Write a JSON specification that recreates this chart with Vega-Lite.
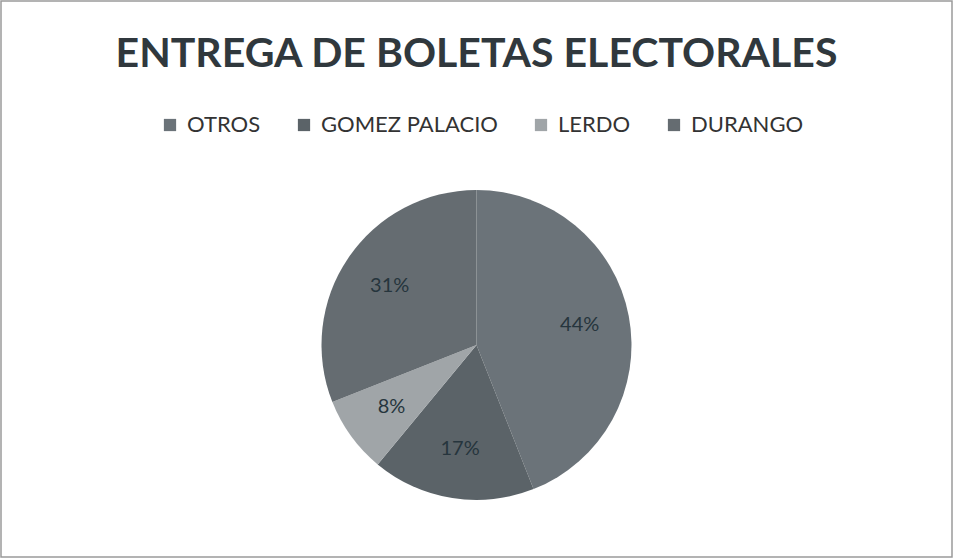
{
  "$schema": "https://vega.github.io/schema/vega-lite/v6.json",
  "autosize": "none",
  "padding": 1,
  "width": 951,
  "height": 556,
  "background": "white",
  "config": {
    "view": {"stroke": null},
    "font": "Lato"
  },
  "title": {
    "text": "ENTREGA DE BOLETAS ELECTORALES",
    "font": "Lato",
    "fontSize": 41,
    "fontWeight": "bold",
    "color": "#30383d",
    "anchor": "middle",
    "baseline": "alphabetic",
    "offset": 0,
    "dy": 108
  },
  "data": {
    "values": [
      {"zona": "OTROS", "pct": 44, "idx": 1, "label": "44%"},
      {"zona": "GOMEZ PALACIO", "pct": 17, "idx": 2, "label": "17%"},
      {"zona": "LERDO", "pct": 8, "idx": 3, "label": "8%"},
      {"zona": "DURANGO", "pct": 31, "idx": 4, "label": "31%"}
    ]
  },
  "layer": [
    {
      "data": {"values": [{"frame": 1}]},
      "mark": {"type": "rect", "fill": null, "stroke": "#9a9a9a", "strokeWidth": 1.5},
      "encoding": {}
    },
    {
      "mark": {"type": "arc", "outerRadius": 155, "yOffset": 66, "stroke": null},
      "encoding": {
        "theta": {"field": "pct", "type": "quantitative", "stack": true},
        "order": {"field": "idx", "type": "quantitative"},
        "color": {
          "field": "zona",
          "type": "nominal",
          "scale": {
            "domain": ["OTROS", "GOMEZ PALACIO", "LERDO", "DURANGO"],
            "range": ["#6b7379", "#5b6368", "#a0a5a8", "#656c71"]
          },
          "legend": {
            "title": null,
            "orient": "none",
            "direction": "horizontal",
            "legendX": 158,
            "legendY": 113,
            "symbolType": "square",
            "symbolSize": 150,
            "symbolStrokeWidth": 0,
            "labelFontSize": 22,
            "labelFont": "Lato",
            "labelColor": "#333333",
            "labelLimit": 300,
            "labelOffset": 6,
            "columnPadding": 32,
            "symbolOffset": 0
          }
        }
      }
    },
    {
      "mark": {"type": "text", "radius": 105, "yOffset": 66, "fontSize": 20, "font": "Lato", "color": "#26353d"},
      "encoding": {
        "theta": {"field": "pct", "type": "quantitative", "stack": true},
        "order": {"field": "idx", "type": "quantitative"},
        "text": {"field": "label", "type": "nominal"}
      }
    }
  ]
}
